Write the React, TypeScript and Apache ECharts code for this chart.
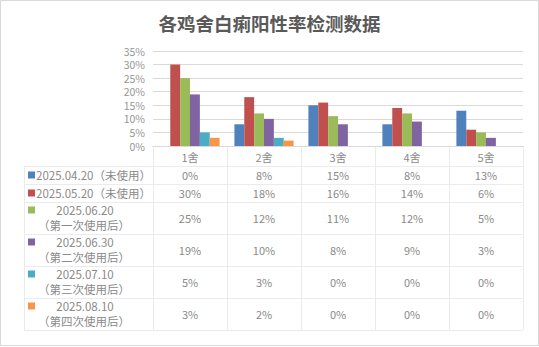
import React, { useEffect, useRef } from "react";
import * as echarts from "echarts";

const categories = ["1舍", "2舍", "3舍", "4舍", "5舍"];
const seriesNames = [
  "2025.04.20（未使用）",
  "2025.05.20（未使用）",
  "2025.06.20\n（第一次使用后）",
  "2025.06.30\n（第二次使用后）",
  "2025.07.10\n（第三次使用后）",
  "2025.08.10\n（第四次使用后）",
];
const s0420 = [0, 8, 15, 8, 13];
const s0520 = [30, 18, 16, 14, 6];
const s0620 = [25, 12, 11, 12, 5];
const s0630 = [19, 10, 8, 9, 3];
const s0710 = [5, 3, 0, 0, 0];
const s0810 = [3, 2, 0, 0, 0];
const seriesValues = [s0420, s0520, s0620, s0630, s0710, s0810];
const colors = ["#4F81BD", "#C0504D", "#9BBB59", "#8064A2", "#4BACC6", "#F79646"];
const yTicks = [0, 5, 10, 15, 20, 25, 30, 35];

const FONT = "'Noto Sans CJK SC', 'Noto Sans', sans-serif";
const TEXT = "#8a8a8a";
const LINE = "#ebebeb";

export default function App() {
  const ref = useRef<HTMLDivElement>(null);
  useEffect(() => {
    document.body.style.margin = "0";
    const chart = echarts.init(ref.current!, null, { renderer: "svg" });
    const gridLeft = 153;
    const gridRight = 523;
    const gridTop = 51;
    const gridBottom = 146;
    chart.setOption({
      animation: false,
      title: {
        text: "各鸡舍白痢阳性率检测数据",
        left: "center",
        top: 9,
        textStyle: { fontFamily: FONT, fontSize: 18.5, fontWeight: "bold", color: "#595959" },
      },
      grid: { left: gridLeft, right: 539 - gridRight, top: gridTop, bottom: 347 - gridBottom },
      xAxis: {
        type: "category",
        data: categories,
        axisLine: { show: true, lineStyle: { color: "#d9d9d9" } },
        axisTick: { show: false },
        axisLabel: { fontFamily: FONT, fontSize: 11, color: TEXT, margin: 5 },
      },
      yAxis: {
        type: "value",
        min: yTicks[0],
        max: yTicks[yTicks.length - 1],
        interval: 5,
        axisLine: { show: false },
        axisTick: { show: false },
        splitLine: { lineStyle: { color: "#d9d9d9" } },
        axisLabel: {
          fontFamily: FONT,
          fontSize: 10.5,
          lineHeight: 11,
          color: "#959595",
          margin: 8,
          formatter: (v: number) => v + "%",
        },
      },
      series: seriesValues.map((vals, i) => ({
        type: "bar",
        name: seriesNames[i],
        data: vals,
        itemStyle: { color: colors[i] },
        barGap: "0%",
        barCategoryGap: "20%",
      })),
    });

    const centers = categories.map((_, i) => chart.convertToPixel({ xAxisIndex: 0 }, i) as number);
    const colW = (gridRight - gridLeft) / categories.length;
    const rowTops = [166, 184, 202, 234, 266, 298, 330];
    const tableLeft = 24;
    const els: any[] = [];
    rowTops.forEach((y) => {
      els.push({ type: "line", shape: { x1: tableLeft, y1: y + 0.5, x2: gridRight, y2: y + 0.5 }, style: { stroke: LINE, lineWidth: 1 }, silent: true });
    });
    els.push({ type: "line", shape: { x1: tableLeft + 0.5, y1: rowTops[0], x2: tableLeft + 0.5, y2: rowTops[rowTops.length - 1] }, style: { stroke: LINE, lineWidth: 1 } });
    for (let i = 0; i <= categories.length; i++) {
      const x = Math.round(gridLeft + i * colW) + 0.5;
      els.push({ type: "line", shape: { x1: x, y1: gridBottom, x2: x, y2: rowTops[rowTops.length - 1] }, style: { stroke: LINE, lineWidth: 1 } });
    }
    seriesValues.forEach((vals, r) => {
      const top = rowTops[r];
      const bottom = rowTops[r + 1];
      const cy = (top + bottom) / 2;
      const twoLine = seriesNames[r].includes("\n");
      const markerY = twoLine ? top + 8 : cy;
      els.push({ type: "rect", shape: { x: 28, y: markerY - 3.5, width: 7, height: 7 }, style: { fill: colors[r] } });
      if (twoLine) {
        const parts = seriesNames[r].split("\n");
        els.push({ type: "text", x: 85, y: top + 8, style: { text: parts[0], fill: TEXT, font: `11.5px ${FONT}`, align: "center", verticalAlign: "middle" } });
        els.push({ type: "text", x: 84, y: top + 23, style: { text: parts[1], fill: TEXT, font: `11.5px ${FONT}`, align: "center", verticalAlign: "middle" } });
      } else {
        els.push({ type: "text", x: 36, y: cy, style: { text: seriesNames[r], fill: TEXT, font: `11.5px ${FONT}`, align: "left", verticalAlign: "middle" } });
      }
      vals.forEach((v, c) => {
        els.push({ type: "text", x: centers[c], y: cy, style: { text: v + "%", fill: TEXT, font: `11px ${FONT}`, align: "center", verticalAlign: "middle" } });
      });
    });
    els.push({ type: "rect", shape: { x: 0.5, y: 0.5, width: 538, height: 345 }, style: { fill: "none", stroke: "#d9d9d9", lineWidth: 1 }, silent: true });
    chart.setOption({ graphic: els });
    return () => chart.dispose();
  }, []);
  return <div ref={ref} style={{ position: "absolute", left: 0, top: 0, width: 539, height: 347 }} />;
}
